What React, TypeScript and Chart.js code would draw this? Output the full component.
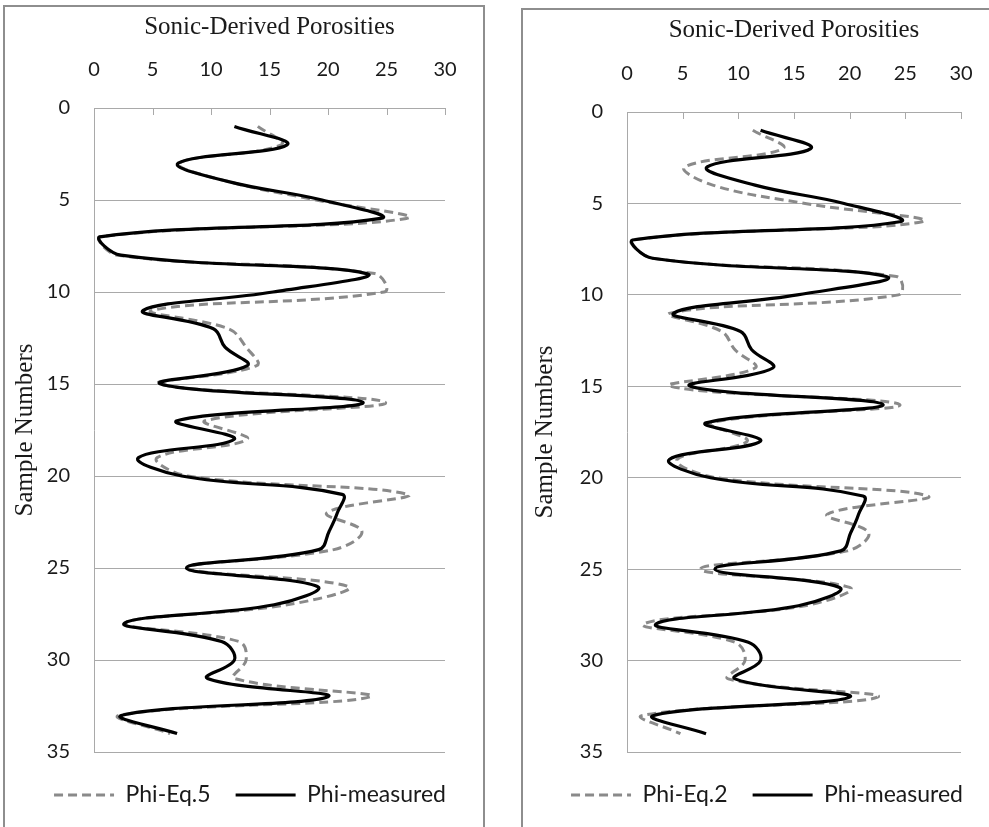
import React, { useEffect, useRef } from "react";
import { Chart, registerables } from "chart.js";

Chart.register(...registerables);

// ---------- data ----------
const sampleNumbers = [
  1, 2, 3, 4, 5, 6, 7, 8, 9, 10, 11, 12, 13, 14, 15, 16, 17,
  18, 19, 20, 21, 22, 23, 24, 25, 26, 27, 28, 29, 30, 31, 32, 33, 34,
];
const phiMeasured = [
  12, 16.5, 7.2, 11.5, 19.5, 24.5, 0.5, 2.3, 23.3, 15.3, 4.2, 10.2, 11.2, 13.1, 5.7, 23, 7.1,
  12, 3.8, 7.5, 21.2, 20.8, 20.1, 19.2, 7.9, 19.1, 15.4, 2.6, 10.9, 12, 9.7, 20, 2.4, 7.1,
];
const phiEq5 = [
  14, 16, 7.3, 11.5, 19, 26.7, 0.5, 2, 24, 24.8, 5, 11.5, 13, 13.9, 5.6, 24.9, 9.5,
  13.1, 5.4, 8, 26.8, 19.9, 22.9, 20.5, 8, 21.7, 16.5, 2.6, 12.4, 13, 12, 23.6, 2.2, 6.5,
];
const phiEq2 = [
  11.3, 14, 5.2, 7.7, 16, 26.5, 0.4, 2.3, 24.2, 24.4, 3.9, 8.5, 9.7, 11.5, 3.9, 24.5, 7.5,
  10.8, 4.5, 8, 27, 18, 21.7, 19.8, 6.6, 20, 16, 1.5, 9.7, 10.6, 9.1, 22.5, 1.4, 4.8,
];
const porosityTicks = [0, 5, 10, 15, 20, 25, 30];
const sampleTicks = [0, 5, 10, 15, 20, 25, 30, 35];

const xTitle = "Sonic-Derived Porosities";
const yTitle = "Sample Numbers";
const measuredLabel = "Phi-measured";

// ---------- styling / layout ----------
const GRID = "#a9a9a9";
const TEXT = "#1a1a1a";
const SANS = "Lato";
const SERIF = "Liberation Serif";

type PanelCfg = {
  eqLabel: string;
  eqData: number[];
  frame: { left: number; top: number; width: number; height: number };
  canvas: { left: number; top: number; width: number; height: number };
  padB: number;
  yWidth: number;
  rightWidth: number;
  xHeight: number;
  yTitlePad: number;
};

const panels: PanelCfg[] = [
  {
    eqLabel: "Phi-Eq.5",
    eqData: phiEq5,
    frame: { left: 3, top: 5, width: 482, height: 860 },
    canvas: { left: 3, top: 5, width: 494, height: 822 },
    padB: 10.5,
    yWidth: 91,
    rightWidth: 52,
    xHeight: 103,
    yTitlePad: 7.2,
  },
  {
    eqLabel: "Phi-Eq.2",
    eqData: phiEq2,
    frame: { left: 521, top: 8, width: 500, height: 860 },
    canvas: { left: 522, top: 8, width: 490, height: 819 },
    padB: 10.5,
    yWidth: 105,
    rightWidth: 51,
    xHeight: 104,
    yTitlePad: 8.2,
  },
];

const innerTicks = {
  id: "innerTicks",
  afterDraw(chart: any) {
    const xs = chart.scales.x;
    const top = chart.chartArea.top;
    const ctx = chart.ctx;
    ctx.save();
    ctx.strokeStyle = GRID;
    ctx.lineWidth = 1;
    xs.ticks.forEach((t: any) => {
      const px = Math.round(xs.getPixelForValue(t.value)) + 0.5;
      ctx.beginPath();
      ctx.moveTo(px, top);
      ctx.lineTo(px, top + 7);
      ctx.stroke();
    });
    ctx.restore();
  },
};

function toPoints(values: number[]) {
  return values.map((v, i) => ({ x: v, y: sampleNumbers[i] }));
}

function legendLabels(chart: any) {
  const items = (Chart.defaults as any).plugins.legend.labels.generateLabels(chart);
  items.forEach((it: any) => {
    const ds = chart.data.datasets[it.datasetIndex];
    it.lineDash = ds.borderDash || [];
    it.lineWidth = ds.borderWidth;
    it.strokeStyle = ds.borderColor;
    it.fillStyle = ds.borderColor;
  });
  return items;
}

function Panel({ cfg }: { cfg: PanelCfg }) {
  const ref = useRef<HTMLCanvasElement>(null);
  useEffect(() => {
    if (!ref.current) return;
    const chart = new Chart(ref.current, {
      type: "scatter",
      data: {
        datasets: [
          {
            label: cfg.eqLabel,
            data: toPoints(cfg.eqData),
            showLine: true,
            borderColor: "#8a8a8a",
            backgroundColor: "#8a8a8a",
            borderWidth: 3,
            borderDash: [9, 5],
            pointRadius: 0,
            tension: 0.4,
            fill: false,
            order: 2,
            yAxisID: "y",
          },
          {
            label: measuredLabel,
            data: toPoints(phiMeasured),
            showLine: true,
            borderColor: "#000000",
            backgroundColor: "#000000",
            borderWidth: 3.2,
            pointRadius: 0,
            tension: 0.4,
            fill: false,
            order: 1,
            yAxisID: "y",
          },
        ],
      } as any,
      options: {
        animation: false,
        responsive: false,
        maintainAspectRatio: false,
        events: [],
        layout: { padding: { left: 0, right: 0, top: 0, bottom: cfg.padB } },
        scales: {
          x: {
            type: "linear",
            position: "top",
            min: porosityTicks[0],
            max: porosityTicks[porosityTicks.length - 1],
            ticks: {
              stepSize: porosityTicks[1] - porosityTicks[0],
              padding: 26,
              color: TEXT,
              font: { family: SANS, size: 20 },
            },
            grid: { display: false, drawTicks: false },
            border: { display: true, color: GRID, width: 1 },
            title: {
              display: true,
              text: xTitle,
              color: TEXT,
              font: { family: SERIF, size: 25 },
              padding: { top: 7, bottom: 0 },
            },
            afterFit: (s: any) => {
              s.height = cfg.xHeight;
            },
          },
          y: {
            type: "linear",
            position: "left",
            reverse: true,
            min: sampleTicks[0],
            max: sampleTicks[sampleTicks.length - 1],
            ticks: {
              stepSize: sampleTicks[1] - sampleTicks[0],
              padding: 24,
              color: TEXT,
              font: { family: SANS, size: 20 },
            },
            grid: { color: GRID, lineWidth: 1, drawTicks: false },
            border: { display: true, color: GRID, width: 1 },
            title: {
              display: true,
              text: yTitle,
              color: TEXT,
              font: { family: SERIF, size: 25 },
              padding: { top: cfg.yTitlePad, bottom: 0 },
            },
            afterFit: (s: any) => {
              s.width = cfg.yWidth;
            },
          },
          spacer: {
            type: "linear",
            position: "right",
            display: true,
            ticks: { display: false },
            grid: { display: false, drawTicks: false },
            border: { display: false },
            title: { display: false },
            afterFit: (s: any) => {
              s.width = cfg.rightWidth;
            },
          },
        },
        plugins: {
          legend: {
            position: "bottom",
            title: { display: true, text: "", font: { size: 1 }, padding: { top: 5.3, bottom: 0 } },
            labels: {
              usePointStyle: true,
              pointStyle: "line",
              pointStyleWidth: 60,
              padding: 25,
              color: TEXT,
              font: { family: SANS, size: 23 },
              generateLabels: legendLabels,
              sort: (a: any, b: any) => a.datasetIndex - b.datasetIndex,
            },
          },
          tooltip: { enabled: false },
        },
      } as any,
      plugins: [innerTicks],
    });
    return () => chart.destroy();
  }, [cfg]);

  return (
    <>
      <div
        style={{
          position: "absolute",
          left: cfg.frame.left,
          top: cfg.frame.top,
          width: cfg.frame.width,
          height: cfg.frame.height,
          border: "2px solid #8e8e8e",
          boxSizing: "border-box",
        }}
      />
      <canvas
        ref={ref}
        width={cfg.canvas.width}
        height={cfg.canvas.height}
        style={{
          position: "absolute",
          left: cfg.canvas.left,
          top: cfg.canvas.top,
          width: cfg.canvas.width,
          height: cfg.canvas.height,
        }}
      />
    </>
  );
}

export default function App() {
  return (
    <div
      style={{
        position: "absolute",
        left: 0,
        top: 0,
        width: 989,
        height: 827,
        overflow: "hidden",
        background: "#ffffff",
      }}
    >
      {panels.map((p) => (
        <Panel key={p.eqLabel} cfg={p} />
      ))}
    </div>
  );
}
